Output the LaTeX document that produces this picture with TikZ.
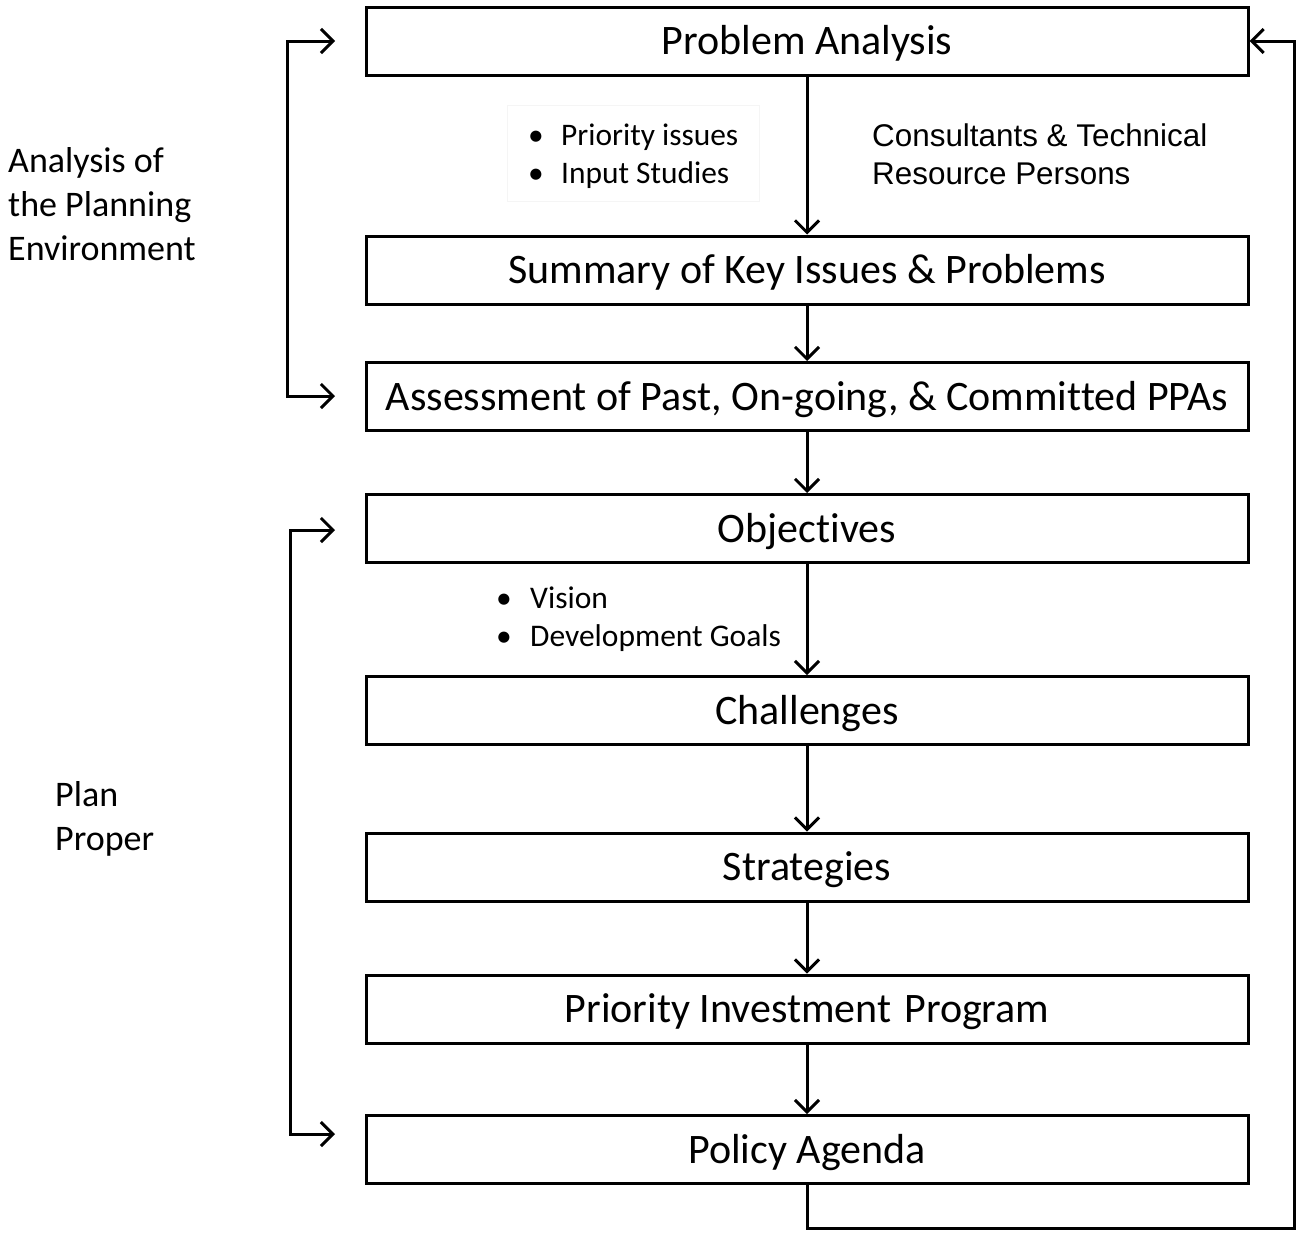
\documentclass[tikz,border=0pt]{standalone}
\usepackage{fontspec}
\setmainfont{Carlito}[Ligatures=NoCommon]
\newfontfamily\arialf{Liberation Sans}
\usetikzlibrary{arrows.meta}
\tikzset{
  stepbox/.style={draw, line width=3pt, minimum width=882pt, minimum height=68pt,
    inner sep=0pt, text height=27pt, text depth=0pt, font=\fontsize{42}{50}\selectfont},
  arr/.style={line width=3pt, -{Straight Barb[length=12pt,width=24pt,line width=3pt]}},
  darr/.style={line width=3pt, {Straight Barb[length=12pt,width=24pt,line width=3pt]}-{Straight Barb[length=12pt,width=24pt,line width=3pt]}},
  sidelbl/.style={anchor=north west, inner sep=0pt, align=left, font=\fontsize{36}{44}\selectfont},
  bullets/.style={anchor=north west, inner sep=0pt, align=left, font=\fontsize{31.4}{38}\selectfont},
}
\begin{document}
\begin{tikzpicture}[x=1pt,y=-1pt]
\useasboundingbox (0,0) rectangle (1297,1232);
% boxes
\node[stepbox] (pa)  at (807,41)     {Problem Analysis};
\node[stepbox] (sk)  at (807,270)    {Summary of Key Issues \& Problems};
\node[stepbox] (as)  at (807,396.5)  {Assessment of Past, On-going, \& Committed PPAs};
\node[stepbox] (ob)  at (807,528.5)  {Objectives};
\node[stepbox] (ch)  at (807,710.5)  {Challenges};
\node[stepbox] (st)  at (807,867)    {Strategies};
\node[stepbox] (pip) at (807,1009)   {Priority Investment\hspace{13pt}Program};
\node[stepbox] (pol) at (807,1149.5) {Policy Agenda};
% vertical flow
\draw[arr] (pa) -- (sk);
\draw[arr] (sk) -- (as);
\draw[arr] (as) -- (ob);
\draw[arr] (ob) -- (ch);
\draw[arr] (ch) -- (st);
\draw[arr] (st) -- (pip);
\draw[arr] (pip) -- (pol);
% feedback loop
\coordinate (fbR) at (1294,1228);
\draw[arr] (pol.south) |- (fbR) |- (pa.east);
% left brackets
\coordinate (t1) at (335,41);
\coordinate (t2) at (335,396);
\coordinate (k1) at (287,41);
\coordinate (k2) at (287,396);
\draw[darr] (t1) -- (k1) -- (k2) -- (t2);
\coordinate (u1) at (335,530);
\coordinate (u2) at (335,1134);
\coordinate (m1) at (290,530);
\coordinate (m2) at (290,1134);
\draw[darr] (u1) -- (m1) -- (m2) -- (u2);
% side labels
\node[sidelbl] (lbA) at (8,147) {Analysis of\\the Planning\\Environment};
\node[sidelbl] (lbP) at (55,781) {Plan\\Proper};
% annotations
\node[draw=black!4, line width=1pt, minimum width=252pt, minimum height=96pt] (box1) at (633,153) {};
\node[bullets] (bl1) at (528,124) {\makebox[33pt][l]{•}Priority issues\\\makebox[33pt][l]{•}Input Studies};
\node[anchor=north west, inner sep=0pt, align=left, font=\arialf\fontsize{31.4}{38}\selectfont] (cons) at (872,124) {Consultants \& Technical\\Resource Persons};
\node[bullets, font=\fontsize{31.5}{38}\selectfont] (bl2) at (496,587) {\makebox[34pt][l]{•}Vision\\\makebox[34pt][l]{•}Development Goals};
\end{tikzpicture}
\end{document}
